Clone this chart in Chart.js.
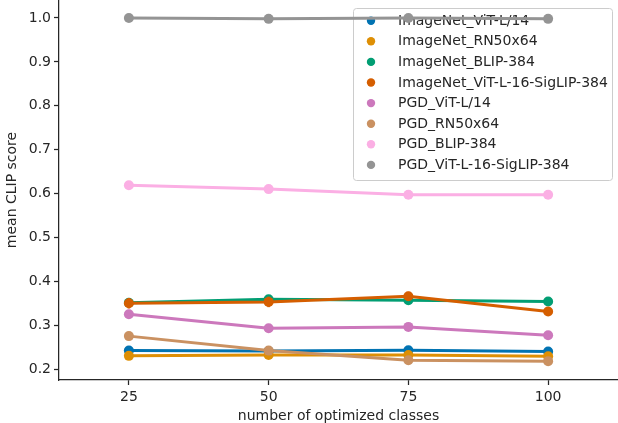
<!DOCTYPE html>
<html>
<head>
<meta charset="utf-8">
<script src="https://cdn.jsdelivr.net/npm/chart.js@4.4.0/dist/chart.umd.min.js"></script>
<style>
  html, body { margin: 0; padding: 0; background: #fff; }
  #wrap { width: 618px; height: 423px; }
</style>
</head>
<body>
<div id="wrap"><canvas id="chart" width="618" height="423"></canvas></div>
<script>
// x categories and y ticks
const xLabels = ['25', '50', '75', '100'];
const yTicks = [0.2, 0.3, 0.4, 0.5, 0.6, 0.7, 0.8, 0.9, 1.0];

const seriesNames = [
  'ImageNet_ViT-L/14',
  'ImageNet_RN50x64',
  'ImageNet_BLIP-384',
  'ImageNet_ViT-L-16-SigLIP-384',
  'PGD_ViT-L/14',
  'PGD_RN50x64',
  'PGD_BLIP-384',
  'PGD_ViT-L-16-SigLIP-384'
];
const seriesColors = ['#0173b2', '#de8f05', '#029e73', '#d55e00', '#cc78bc', '#ca9161', '#fbafe4', '#949494'];

// mean clip score per category
const imagenetVitL14 = [0.242, 0.241, 0.243, 0.240];
const imagenetRN50x64 = [0.230, 0.232, 0.232, 0.229];
const imagenetBlip384 = [0.351, 0.359, 0.357, 0.354];
const imagenetSiglip = [0.350, 0.353, 0.366, 0.331];
const pgdVitL14 = [0.325, 0.293, 0.296, 0.277];
const pgdRN50x64 = [0.275, 0.242, 0.220, 0.218];
const pgdBlip384 = [0.619, 0.610, 0.597, 0.597];
const pgdSiglip = [1.000, 0.998, 1.000, 0.998];

// error bar half widths
const imagenetSiglipErr = [0.012, 0.012, 0.010, 0.006];
const pgdBlip384Err = [0, 0.006, 0, 0];

const allSeries = [imagenetVitL14, imagenetRN50x64, imagenetBlip384, imagenetSiglip,
                   pgdVitL14, pgdRN50x64, pgdBlip384, pgdSiglip];
const allErrors = [null, null, null, imagenetSiglipErr, null, null, pgdBlip384Err, null];

const FONT = "'DejaVu Sans', sans-serif";

const datasets = allSeries.map((vals, i) => ({
  label: seriesNames[i],
  data: vals.map((v, j) => ({ x: j, y: v })),
  borderColor: seriesColors[i],
  backgroundColor: seriesColors[i],
  borderWidth: 3,
  pointRadius: 5,
  pointHoverRadius: 5,
  pointBorderWidth: 0,
  order: allSeries.length - i,
  clip: false
}));

const errorBars = {
  id: 'errorBars',
  beforeDatasetDraw(chart, args) {
    const err = allErrors[args.index];
    if (!err) return;
    const ctx = chart.ctx;
    const xs = chart.scales.x, ys = chart.scales.y;
    ctx.save();
    ctx.strokeStyle = seriesColors[args.index];
    ctx.lineWidth = 2.6;
    allSeries[args.index].forEach((v, j) => {
      if (!err[j]) return;
      const px = xs.getPixelForValue(j);
      ctx.beginPath();
      ctx.moveTo(px, ys.getPixelForValue(v - err[j]));
      ctx.lineTo(px, ys.getPixelForValue(v + err[j]));
      ctx.stroke();
    });
    ctx.restore();
  }
};

const legendBox = {
  id: 'legendBox',
  beforeDatasetsDraw(chart) {
    const ctx = chart.ctx;
    const x0 = 353, y0 = 8, w = 259, h = 172, r = 3;
    ctx.save();
    ctx.fillStyle = 'rgba(255,255,255,0.8)';
    ctx.strokeStyle = '#cccccc';
    ctx.lineWidth = 1;
    ctx.beginPath();
    ctx.roundRect(x0 + 0.5, y0 + 0.5, w, h, r);
    ctx.fill();
    ctx.stroke();
    ctx.font = '14px ' + FONT;
    ctx.textBaseline = 'middle';
    seriesNames.forEach((name, i) => {
      const y = 20.7 + i * 20.6;
      ctx.fillStyle = seriesColors[i];
      ctx.beginPath();
      ctx.arc(371, y, 4.2, 0, Math.PI * 2);
      ctx.fill();
      ctx.fillStyle = '#262626';
      ctx.fillText(name, 398, y + 0.5);
    });
    ctx.restore();
  }
};

function noPad(scale) {
  scale.paddingLeft = 0;
  scale.paddingRight = 0;
  scale.paddingTop = 0;
  scale.paddingBottom = 0;
}

new Chart(document.getElementById('chart'), {
  type: 'line',
  data: { datasets },
  plugins: [legendBox, errorBars],
  options: {
    responsive: false,
    animation: false,
    layout: { padding: 0, autoPadding: false },
    plugins: { legend: { display: false }, tooltip: { enabled: false } },
    scales: {
      x: {
        type: 'linear',
        min: -0.5,
        max: 3.5,
        afterFit(scale) { scale.height = 43; noPad(scale); },
        afterBuildTicks(scale) { scale.ticks = xLabels.map((l, i) => ({ value: i })); },
        ticks: {
          autoSkip: false,
          maxRotation: 0,
          padding: 4,
          color: '#262626',
          font: { family: FONT, size: 14 },
          callback: (v) => xLabels[v]
        },
        grid: { drawOnChartArea: false, tickLength: 5, color: '#262626', tickWidth: 1.25 },
        border: { color: '#262626', width: 1.25 },
        title: {
          display: true,
          text: 'number of optimized classes',
          color: '#262626',
          font: { family: FONT, size: 14, lineHeight: 1 },
          padding: { top: 0, bottom: 0 }
        }
      },
      y: {
        type: 'linear',
        min: 0.175,
        max: 1.041,
        afterFit(scale) { scale.width = 59; noPad(scale); },
        afterBuildTicks(scale) { scale.ticks = yTicks.map(v => ({ value: v })); },
        ticks: {
          padding: 3,
          color: '#262626',
          font: { family: FONT, size: 14 },
          callback: (v) => v.toFixed(1)
        },
        grid: { drawOnChartArea: false, tickLength: 5, color: '#262626', tickWidth: 1.25 },
        border: { color: '#262626', width: 1.25 },
        title: {
          display: true,
          text: 'mean CLIP score',
          color: '#262626',
          font: { family: FONT, size: 14, lineHeight: 1 },
          padding: { top: 5, bottom: 0 }
        }
      }
    }
  }
});
</script>
</body>
</html>
